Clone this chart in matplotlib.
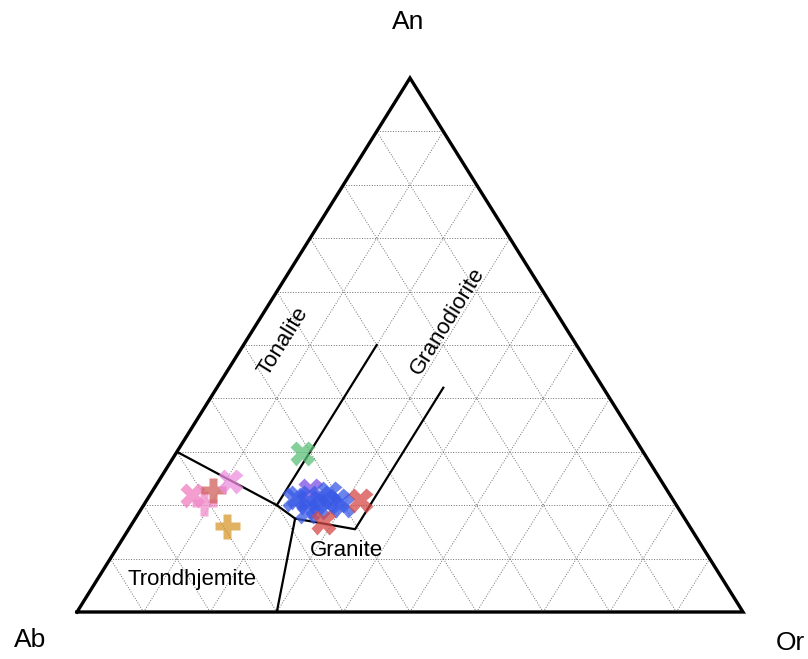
import matplotlib
matplotlib.use('Agg')
import matplotlib.pyplot as plt

plt.rcParams['font.family'] = ['Liberation Sans', 'DejaVu Sans']

# Normative feldspar compositions (fractions): An, Or  (Ab = 1 - An - Or)
an_vals = [0.219, 0.204, 0.228, 0.245, 0.161, 0.298, 0.228,
           0.215, 0.206, 0.215, 0.206, 0.210, 0.200, 0.197, 0.212,
           0.222, 0.190, 0.210, 0.169]
or_vals = [0.063, 0.089, 0.090, 0.107, 0.144, 0.189, 0.236,
           0.224, 0.244, 0.257, 0.272, 0.285, 0.298, 0.262, 0.220,
           0.268, 0.250, 0.320, 0.285]
markers = ['X', 'P', 'P', 'X', 'P', 'X', 'X',
           'X', 'X', 'X', 'X', 'X', 'X', 'X', 'X',
           'X', 'X', 'X', 'X']
colors = ['#f07ec0', '#f28ccc', '#d0605c', '#ee8ee0', '#d8982c', '#5cbf7a', '#7a50e4',
          '#3a5ae6', '#3a5ae6', '#3a5ae6', '#3a5ae6', '#3a5ae6', '#3a5ae6', '#3a5ae6', '#3a5ae6',
          '#3a5ae6', '#3a5ae6', '#d44a48', '#d44a48']

# Field boundaries (O'Connor / Barker), as (An, Or) pairs
bound_main_an = [0.30, 0.20, 0.175, 0.155, 0.42]
bound_main_or = [0.00, 0.20, 0.24, 0.34, 0.34]
bound_ton_an = [0.20, 0.50]
bound_ton_or = [0.20, 0.20]
bound_tro_an = [0.175, 0.0]
bound_tro_or = [0.24, 0.30]


def tern(an, orth):
    # ternary -> cartesian, Or corner at right, An at top
    xs = [o + a / 2.0 for a, o in zip(an, orth)]
    ys = list(an)
    return xs, ys


fig = plt.figure(figsize=(8.08, 6.59), dpi=100)
ax = fig.add_axes([77 / 808, 47 / 659, 666 / 808, 534 / 659])
ax.set_xlim(0, 1)
ax.set_ylim(0, 1)
ax.axis('off')

# grid lines every 10 %
for i in range(1, 10):
    v = i / 10.0
    # constant An
    x, y = tern([v, v], [0, 1 - v])
    ax.plot(x, y, color='#707070', lw=0.7, ls=':', zorder=1)
    # constant Or
    x, y = tern([0, 1 - v], [v, v])
    ax.plot(x, y, color='#707070', lw=0.7, ls=':', zorder=1)
    # constant Ab
    x, y = tern([0, 1 - v], [1 - v, 0])
    ax.plot(x, y, color='#707070', lw=0.7, ls=':', zorder=1)

# triangle outline
x, y = tern([0, 0, 1, 0], [0, 1, 0, 0])
ax.plot(x, y, color='black', lw=2.4, solid_joinstyle='miter', clip_on=False, zorder=3)

# field boundaries
for b_an, b_or in [(bound_main_an, bound_main_or), (bound_ton_an, bound_ton_or),
                   (bound_tro_an, bound_tro_or)]:
    x, y = tern(b_an, b_or)
    ax.plot(x, y, color='black', lw=1.6, zorder=2)

# samples
for a, o, m, c in zip(an_vals, or_vals, markers, colors):
    x, y = tern([a], [o])
    ax.plot(x, y, marker=m, ms=18, color=c, alpha=0.75, mec='none', ls='none', zorder=4)

# field names
ax.text(0.309, 0.506, 'Tonalite', rotation=58, ha='center', va='center', fontsize=16)
ax.text(0.557, 0.545, 'Granodiorite', rotation=58, ha='center', va='center', fontsize=16)
ax.text(0.404, 0.116, 'Granite', ha='center', va='center', fontsize=16)
ax.text(0.173, 0.060, 'Trondhjemite', ha='center', va='center', fontsize=16)

# corner labels
ax.text(0.497, 1.105, 'An', ha='center', va='center', fontsize=19, clip_on=False)
ax.text(-0.071, -0.052, 'Ab', ha='center', va='center', fontsize=19, clip_on=False)
ax.text(1.071, -0.058, 'Or', ha='center', va='center', fontsize=19, clip_on=False)

fig.savefig('out.png', dpi=100)
